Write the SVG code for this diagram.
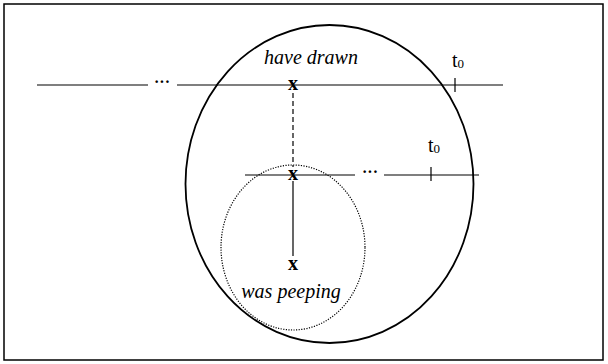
<svg xmlns="http://www.w3.org/2000/svg" width="608" height="364" viewBox="0 0 608 364">
<style>
.ln{stroke:#000;stroke-width:1.2;fill:none}
.it{font-family:"Liberation Serif",serif;font-style:italic;font-size:20px;fill:#000}
.x{font-family:"Liberation Serif",serif;font-weight:bold;font-size:20px;fill:#000;text-anchor:middle}
.t{font-family:"Liberation Serif",serif;font-size:20px;fill:#000}
.dots{font-family:"Liberation Serif",serif;font-weight:bold;font-size:16px;fill:#000;text-anchor:middle}
</style>
<rect x="4" y="4" width="599" height="356" fill="#fff" stroke="#000" stroke-width="1.5"/>
<g id="big-ellipse"><ellipse cx="329.5" cy="184" rx="144" ry="159" fill="none" stroke="#000" stroke-width="1.8"/></g>
<g id="small-ellipse"><ellipse cx="293" cy="247.5" rx="72" ry="82.5" fill="none" stroke="#000" stroke-width="1.2" stroke-dasharray="1.2 1.4"/></g>
<g id="connectors">
<line class="ln" x1="37" y1="85" x2="148" y2="85"/>
<line class="ln" x1="177" y1="85" x2="503" y2="85"/>
<line class="ln" x1="455" y1="78" x2="455" y2="92" stroke-width="2"/>
<line class="ln" x1="245" y1="175" x2="355" y2="175"/>
<line class="ln" x1="384" y1="175" x2="479" y2="175"/>
<line class="ln" x1="431" y1="167" x2="431" y2="181" stroke-width="2"/>
<line class="ln" x1="293" y1="93" x2="293" y2="167" stroke-dasharray="5 3"/>
<line class="ln" x1="293" y1="181" x2="293" y2="256"/>
</g>
<g id="dots1"><text class="dots" x="162" y="87">···</text></g>
<g id="dots2"><text class="dots" x="370" y="177">···</text></g>
<g id="x-top"><text class="x" x="293" y="90">x</text></g>
<g id="x-mid"><text class="x" x="293" y="180">x</text></g>
<g id="x-bot"><text class="x" x="293" y="270">x</text></g>
<g id="label-have-drawn"><text class="it" x="311" y="64" text-anchor="middle">have drawn</text></g>
<g id="label-was-peeping"><text class="it" x="291" y="298" text-anchor="middle">was peeping</text></g>
<g id="t0-top"><text class="t" x="452" y="67">t<tspan font-size="13" dy="1">0</tspan></text></g>
<g id="t0-mid"><text class="t" x="428" y="152">t<tspan font-size="13" dy="1">0</tspan></text></g>
</svg>
